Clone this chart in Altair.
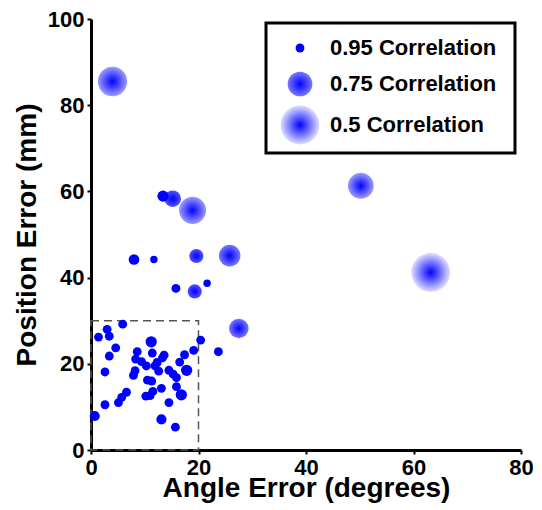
import altair as alt
import pandas as pd

# Angle error (degrees), position error (mm), correlation for each trial
angle = [4.0, 13.4, 15.2, 18.9, 8.0, 11.7, 19.6, 25.8, 15.8, 19.3, 21.6, 27.5, 50.2, 63.2,
         1.4, 3.0, 3.4, 5.9, 4.6, 3.4, 2.6, 0.7, 2.6, 5.1, 5.7, 6.6, 11.2, 8.6, 11.4, 13.6,
         8.3, 9.4, 10.3, 8.2, 7.9, 12.3, 13.3, 12.6, 11.9, 10.5, 11.3, 14.5, 15.3, 15.9,
         15.9, 16.5, 17.4, 19.1, 20.4, 17.8, 13.1, 11.5, 10.2, 11.0, 14.5, 16.8, 13.1, 15.7, 23.7]
position = [85.5, 58.9, 58.3, 55.6, 44.2, 44.2, 45.0, 45.1, 37.5, 36.8, 38.7, 28.2, 61.3, 41.2,
            26.2, 28.0, 26.4, 29.2, 23.7, 21.8, 18.1, 7.9, 10.5, 11.0, 12.2, 13.4, 25.1, 22.8, 22.5, 22.0,
            21.1, 20.5, 19.5, 18.4, 17.3, 20.3, 21.4, 18.3, 19.5, 16.2, 16.0, 18.5, 17.6, 16.8,
            14.7, 20.4, 22.1, 23.1, 25.5, 18.5, 14.3, 13.6, 12.5, 12.6, 11.0, 12.8, 7.1, 5.3, 22.8]
correlation = [0.67, 0.93, 0.87, 0.71, 0.935, 0.96, 0.90, 0.80, 0.95, 0.90, 0.96, 0.83, 0.73, 0.50,
               0.95, 0.95, 0.95, 0.95, 0.95, 0.95, 0.95, 0.94, 0.95, 0.95, 0.95, 0.95, 0.93, 0.95, 0.95, 0.95,
               0.95, 0.95, 0.95, 0.95, 0.95, 0.95, 0.95, 0.95, 0.95, 0.95, 0.95, 0.95, 0.95, 0.95,
               0.95, 0.95, 0.95, 0.95, 0.95, 0.93, 0.95, 0.95, 0.95, 0.95, 0.95, 0.93, 0.94, 0.95, 0.95]

legend_corr = [0.95, 0.75, 0.5]
legend_labels = ["0.95 Correlation", "0.75 Correlation", "0.5 Correlation"]

x_ticks = [0, 20, 40, 60, 80]
y_ticks = [0, 20, 40, 60, 80, 100]
zoom_box = {"x": [0], "x2": [20], "y": [0], "y2": [30]}


def group_of(c):
    if c >= 0.92:
        return "g0"
    if c >= 0.85:
        return "g1"
    if c >= 0.74:
        return "g2"
    if c >= 0.6:
        return "g3"
    return "g4"


edge = {"g1": "#5252ff", "g2": "#7878ff", "g3": "#9c9cff", "g4": "#e0e0ff"}


def fill_for(g):
    if g == "g0":
        return "#0000ff"
    return alt.RadialGradient(
        gradient="radial", x1=0.5, y1=0.5, r1=0, x2=0.5, y2=0.5, r2=0.5,
        stops=[alt.GradientStop(color="#0000ff", offset=0),
               alt.GradientStop(color=edge[g], offset=1)])


df = pd.DataFrame({"angle": angle, "position": position, "corr": correlation})
df["group"] = [group_of(c) for c in correlation]

leg = pd.DataFrame({"corr": legend_corr, "label": legend_labels})
leg["group"] = [group_of(c) for c in legend_corr]
leg["ly"] = [29, 65, 106]

FONT = "Liberation Sans"
size_scale = alt.Scale(type="log", domain=[0.5, 0.95], range=[1520, 78.5])

xenc = alt.X("angle:Q", scale=alt.Scale(domain=[0, 80], nice=False),
             axis=alt.Axis(values=x_ticks, title="Angle Error (degrees)"))
yenc = alt.Y("position:Q", scale=alt.Scale(domain=[0, 100], nice=False),
             axis=alt.Axis(values=y_ticks, title="Position Error (mm)"))

box = alt.Chart(pd.DataFrame(zoom_box)).mark_rect(
    fillOpacity=0, stroke="#555555", strokeWidth=1.5, strokeDash=[8, 5]
).encode(x=alt.X("x:Q"), x2="x2:Q", y=alt.Y("y:Q"), y2="y2:Q")

layers = [box]
for g in ["g4", "g3", "g2", "g1", "g0"]:
    layers.append(
        alt.Chart(df).transform_filter(alt.datum.group == g).mark_point(
            shape="circle", filled=True, fill=fill_for(g), opacity=1, strokeWidth=0
        ).encode(x=xenc, y=yenc,
                 size=alt.Size("corr:Q", scale=size_scale, legend=None))
    )

legend_box = alt.Chart(pd.DataFrame({"a": [0]})).mark_rect(
    fill="white", stroke="black", strokeWidth=3
).encode(x=alt.value(175), x2=alt.value(424), y=alt.value(4), y2=alt.value(134))
layers.append(legend_box)

for g in ["g0", "g2", "g4"]:
    layers.append(
        alt.Chart(leg).transform_filter(alt.datum.group == g).mark_point(
            shape="circle", filled=True, fill=fill_for(g), opacity=1, strokeWidth=0
        ).encode(x=alt.value(209), y=alt.Y("ly:Q", scale=None),
                 size=alt.Size("corr:Q", scale=size_scale, legend=None))
    )

layers.append(
    alt.Chart(leg).mark_text(
        align="left", baseline="middle", fontSize=22, fontWeight="bold", font=FONT, color="black"
    ).encode(x=alt.value(239), y=alt.Y("ly:Q", scale=None), text="label:N")
)

chart = alt.layer(*layers).properties(
    width=430, height=431,
    padding={"left": 83, "top": 11, "right": 12, "bottom": 58},
    autosize=alt.AutoSizeParams(type="none"),
).configure_view(stroke=None).configure_axis(
    grid=False, domainColor="black", domainWidth=3, tickColor="black", tickWidth=2,
    tickSize=4, labelFont=FONT, labelFontSize=22, labelFontWeight="bold", labelColor="black",
    titleFont=FONT, titleFontSize=28, titleFontWeight="bold", titleColor="black",
    labelPadding=3, labelFlush=False, zindex=1,
).configure_axisX(titlePadding=-4).configure_axisY(titlePadding=6)

chart.save("out.html", embed_options={"renderer": "svg", "actions": False})
